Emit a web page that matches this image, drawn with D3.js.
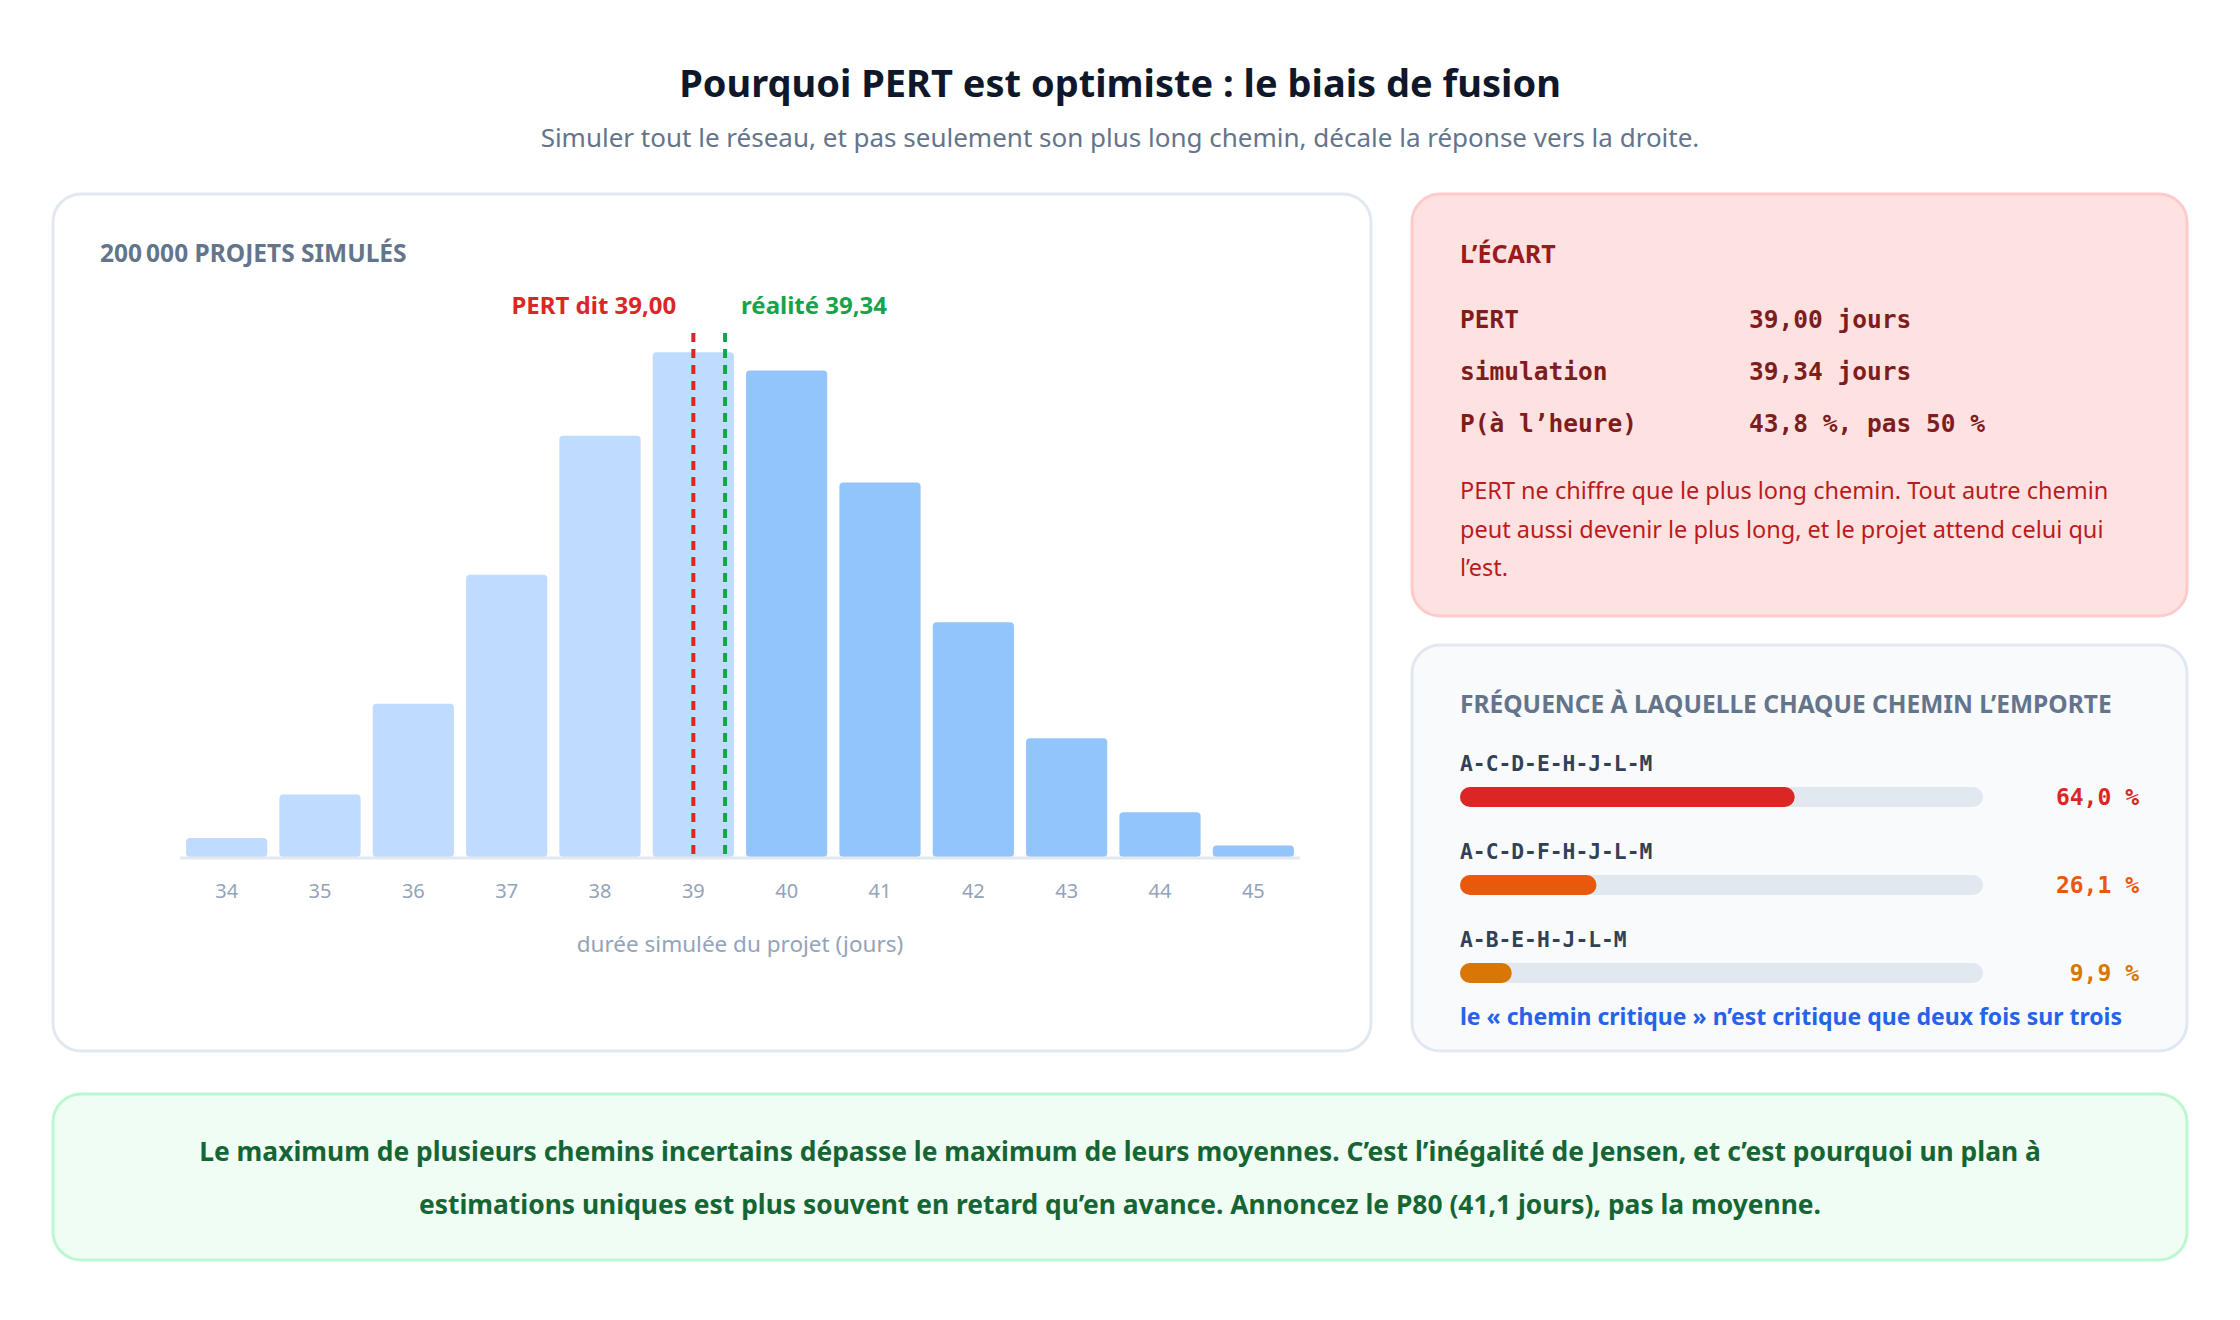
<!DOCTYPE html>
<html><head><meta charset="utf-8">
<script src="https://cdn.jsdelivr.net/npm/d3@7"></script>
<style>
html,body{margin:0;padding:0;background:#fff;}
svg{display:block;}
</style></head>
<body>
<svg id="c" width="2240" height="1320"></svg>
<script>
// ---- data ----
const durations = [34,35,36,37,38,39,40,41,42,43,44,45];
const counts = [1400,4600,11300,20800,31050,37200,35850,27600,17300,8750,3300,850]; // of 200 000
const pertValue = 39.00;
const simValue = 39.34;
const pathNames = ["A-C-D-E-H-J-L-M","A-C-D-F-H-J-L-M","A-B-E-H-J-L-M"];
const pathShares = [64.0, 26.1, 9.9];
const pathColors = ["#dc2626","#ea580c","#d97706"];
const ecartLabels = ["PERT","simulation","P(à l’heure)"];
const ecartValues = ["39,00 jours","39,34 jours","43,8 %, pas 50 %"];

const SANS = "'Noto Sans','Open Sans',sans-serif";
const MONO = "'DejaVu Sans Mono',monospace";
const svg = d3.select("#c");

// title
svg.append("text").attr("x",1120).attr("y",97).attr("text-anchor","middle")
  .attr("font-family",SANS).attr("font-weight",700).attr("font-size",38).attr("fill","#0f172a")
  .text("Pourquoi PERT est optimiste : le biais de fusion");
svg.append("text").attr("x",1120).attr("y",147).attr("text-anchor","middle")
  .attr("font-family",SANS).attr("font-size",26).attr("fill","#64748b")
  .text("Simuler tout le réseau, et pas seulement son plus long chemin, décale la réponse vers la droite.");

// panels
function panel(x,y,w,h,fill,stroke){
  svg.append("rect").attr("x",x).attr("y",y).attr("width",w).attr("height",h).attr("rx",28)
    .attr("fill",fill).attr("stroke",stroke).attr("stroke-width",3);
}
panel(53,194,1318,857,"#ffffff","#e2e8f0");
panel(1412,194,775,422,"#fee2e2","#fecaca");
panel(1412,645,775,406,"#f8fafc","#e2e8f0");
panel(53,1094,2134,166,"#f0fdf4","#bbf7d0");

// ---- histogram ----
svg.append("text").attr("x",100).attr("y",262).attr("font-family",SANS).attr("font-weight",700)
  .attr("font-size",24.5).attr("fill","#64748b").text("200\u2009000 PROJETS SIMULÉS");

const x = d3.scaleBand().domain(durations).range([180,1300]).paddingInner(0.13).paddingOuter(0.065);
const y = d3.scaleLinear().domain([0, d3.max(counts)*1.04]).range([857,332]);
const step = x.step();
const xv = v => x(Math.floor(v)) + x.bandwidth()/2 + (v-Math.floor(v))*step;

const g = svg.append("g");
g.selectAll("rect.bar").data(durations).join("rect").attr("class","bar")
  .attr("x",d=>x(d)).attr("width",x.bandwidth())
  .attr("y",(d,i)=>y(counts[i])).attr("height",(d,i)=>y(0)-y(counts[i]))
  .attr("rx",4).attr("fill",d=> d<=39 ? "#bfdbfe" : "#93c5fd");

g.append("line").attr("x1",180).attr("x2",1300).attr("y1",858).attr("y2",858)
  .attr("stroke","#e2e8f0").attr("stroke-width",3);

const ax = g.append("g").attr("transform","translate(0,858)")
  .call(d3.axisBottom(x).tickSize(0).tickPadding(26));
ax.select(".domain").remove();
ax.selectAll("text").attr("font-family",SANS).attr("font-size",20).attr("fill","#94a3b8");

g.append("text").attr("x",740).attr("y",952).attr("text-anchor","middle")
  .attr("font-family",SANS).attr("font-size",22.5).attr("fill","#94a3b8")
  .text("durée simulée du projet (jours)");

// reference lines
[[pertValue,"#dc2626","PERT dit 39,00","end",-17],[simValue,"#16a34a","réalité 39,34","start",16]].forEach(([v,c,lab,anc,dx])=>{
  g.append("line").attr("x1",xv(v)).attr("x2",xv(v)).attr("y1",333).attr("y2",857)
    .attr("stroke",c).attr("stroke-width",4).attr("stroke-dasharray","9,7");
  g.append("text").attr("x",xv(v)+dx).attr("y",314).attr("text-anchor",anc)
    .attr("font-family",SANS).attr("font-weight",700).attr("font-size",24).attr("fill",c).text(lab);
});

// ---- L'ÉCART ----
svg.append("text").attr("x",1460).attr("y",263).attr("font-family",SANS).attr("font-weight",700)
  .attr("font-size",25).attr("fill","#991b1b").text("L’ÉCART");
ecartLabels.forEach((l,i)=>{
  svg.append("text").attr("x",1460).attr("y",328+i*52).attr("font-family",MONO).attr("font-weight",700)
    .attr("font-size",24.5).attr("fill","#7f1d1d").text(l);
  svg.append("text").attr("x",1749).attr("y",328+i*52).attr("font-family",MONO).attr("font-weight",700)
    .attr("font-size",24.5).attr("fill","#7f1d1d").text(ecartValues[i]);
});
["PERT ne chiffre que le plus long chemin. Tout autre chemin",
 "peut aussi devenir le plus long, et le projet attend celui qui",
 "l’est."].forEach((t,i)=>{
  svg.append("text").attr("x",1460).attr("y",499+i*38.5).attr("font-family",SANS)
    .attr("font-size",23.5).attr("fill","#b91c1c").text(t);
});

// ---- path frequency ----
svg.append("text").attr("x",1460).attr("y",713).attr("font-family",SANS).attr("font-weight",700)
  .attr("font-size",24.5).attr("fill","#64748b").text("FRÉQUENCE À LAQUELLE CHAQUE CHEMIN L’EMPORTE");
const bx = d3.scaleLinear().domain([0,100]).range([1460,1983]);
pathNames.forEach((p,i)=>{
  const y0 = 771 + i*88;
  svg.append("text").attr("x",1460).attr("y",y0).attr("font-family",MONO).attr("font-weight",700)
    .attr("font-size",21.3).attr("fill","#334155").text(p);
  svg.append("rect").attr("x",bx(0)).attr("y",y0+16).attr("width",bx(100)-bx(0)).attr("height",20)
    .attr("rx",10).attr("fill","#e2e8f0");
  svg.append("rect").attr("x",bx(0)).attr("y",y0+16).attr("width",bx(pathShares[i])-bx(0)).attr("height",20)
    .attr("rx",10).attr("fill",pathColors[i]);
  svg.append("text").attr("x",2139).attr("y",y0+34).attr("text-anchor","end").attr("font-family",MONO)
    .attr("font-weight",700).attr("font-size",23).attr("fill",pathColors[i])
    .text(d3.format(".1f")(pathShares[i]).replace(".",",")+" %");
});
svg.append("text").attr("x",1460).attr("y",1025).attr("font-family",SANS).attr("font-weight",700)
  .attr("font-size",23).attr("fill","#2563eb")
  .text("le « chemin critique » n’est critique que deux fois sur trois");

// ---- conclusion ----
["Le maximum de plusieurs chemins incertains dépasse le maximum de leurs moyennes. C’est l’inégalité de Jensen, et c’est pourquoi un plan à",
 "estimations uniques est plus souvent en retard qu’en avance. Annoncez le P80 (41,1 jours), pas la moyenne."].forEach((t,i)=>{
  svg.append("text").attr("x",1120).attr("y",1161+i*53).attr("text-anchor","middle")
    .attr("font-family",SANS).attr("font-weight",700).attr("font-size",26.4).attr("fill","#166534").text(t);
});
</script>
</body></html>
